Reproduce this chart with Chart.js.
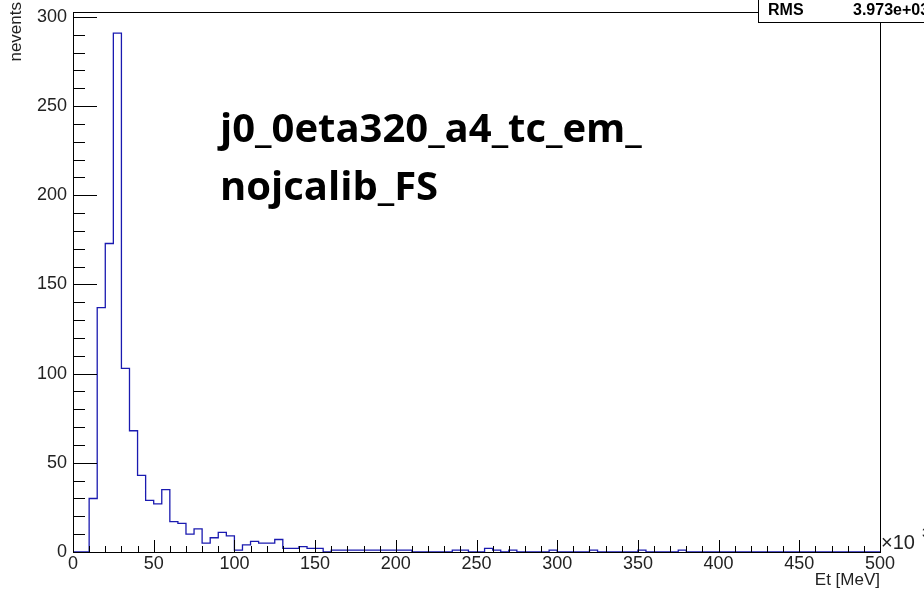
<!DOCTYPE html>
<html><head><meta charset="utf-8">
<script src="https://cdn.jsdelivr.net/npm/chart.js@4"></script>
<style>html,body{margin:0;padding:0;background:#fff}#w{width:924px;height:602px;position:relative}</style>
</head><body><div id="w"><canvas id="c"></canvas></div>
<script>
const binWidth = 5;
const counts = [0,0,30,137,173,291,103,68,43,29,27,35,17,16,10,13,5,8,11,9,
1,4,6,5,5,7,2,2,3,2,2,0,1,1,1,1,1,1,1,1,
1,1,0,0,0,0,0,1,1,0,0,2,1,0,1,0,0,0,0,1,
0,0,0,0,1,0,0,0,0,0,1,0,0,0,0,1,0,0,0,0,
0,0,0,0,0,0,0,0,0,0,0,0,0,0,0,0,0,0,0,0];
const xTicks = [0,50,100,150,200,250,300,350,400,450,500];
const yTicks = [0,50,100,150,200,250,300];
const title1 = "j0_0eta320_a4_tc_em_", title2 = "nojcalib_FS";

const pts = counts.map((v,i)=>({x:i*binWidth,y:v}));
pts.push({x:counts.length*binWidth,y:counts[counts.length-1]});

const F = '"Liberation Sans", Arial, sans-serif';
const deco = {
  id:'deco',
  afterDraw(ch){
    const c=ch.ctx, a=ch.chartArea, xs=ch.scales.x, ys=ch.scales.y;
    c.save();
    c.strokeStyle='#000'; c.lineWidth=1;
    c.strokeRect(a.left+0.5,a.top+0.5,a.right-a.left,a.bottom-a.top);
    c.beginPath();
    for(let v=0;v<=500;v+=10){const px=Math.round(xs.getPixelForValue(v))+0.5;
      const L=(v%50===0)?12:6; c.moveTo(px,a.bottom);c.lineTo(px,a.bottom-L);}
    for(let v=0;v<=300;v+=10){const py=Math.round(ys.getPixelForValue(v))+0.5;
      const L=(v%50===0)?24:12; c.moveTo(a.left,py);c.lineTo(a.left+L,py);}
    c.stroke();
    c.fillStyle='#222'; c.font='18px '+F;
    c.textAlign='center'; c.textBaseline='top';
    xTicks.forEach(v=>c.fillText(String(v),xs.getPixelForValue(v),a.bottom+3));
    c.textAlign='right'; c.textBaseline='middle';
    yTicks.forEach(v=>c.fillText(String(v),a.left-6,ys.getPixelForValue(v)));
    c.textAlign='left'; c.textBaseline='middle';
    c.font='20px '+F; c.fillText('\u00d710',a.right+1,a.bottom-9);
    c.font='13px '+F; c.fillText('3',a.right+42,a.bottom-19);
    c.font='17px '+F; c.textAlign='right'; c.textBaseline='top';
    c.fillText('Et [MeV]',a.right,a.bottom+20);
    c.save(); c.translate(16,a.top-10); c.rotate(-Math.PI/2);
    c.textAlign='right'; c.textBaseline='middle'; c.fillText('nevents',0,0); c.restore();
    c.fillStyle='#fff'; c.fillRect(758,-1,200,23);
    c.strokeRect(758.5,-1,200,23.5);
    c.fillStyle='#000'; c.font='bold 16px '+F; c.textAlign='left'; c.textBaseline='middle';
    c.fillText('RMS',768,11); c.fillText('3.973e+03',853,11);
    c.font='bold 40px "Open Sans", "Liberation Sans", sans-serif'; c.fillStyle='#000';
    c.fillText(title1,220,131); c.fillText(title2,220,189);
    c.restore();
  }
};
new Chart(document.getElementById('c'),{
  type:'line',
  data:{datasets:[{data:pts,stepped:'before',borderColor:'#1a1ab0',borderWidth:1.3,pointRadius:0,fill:false}]},
  options:{responsive:true,maintainAspectRatio:false,animation:false,
    layout:{padding:{left:73,right:44,top:12,bottom:50}},
    plugins:{legend:{display:false},tooltip:{enabled:false}},
    scales:{x:{type:'linear',min:0,max:500,display:false},
            y:{min:0,max:302.8,display:false}}},
  plugins:[deco]
});
</script></body></html>
